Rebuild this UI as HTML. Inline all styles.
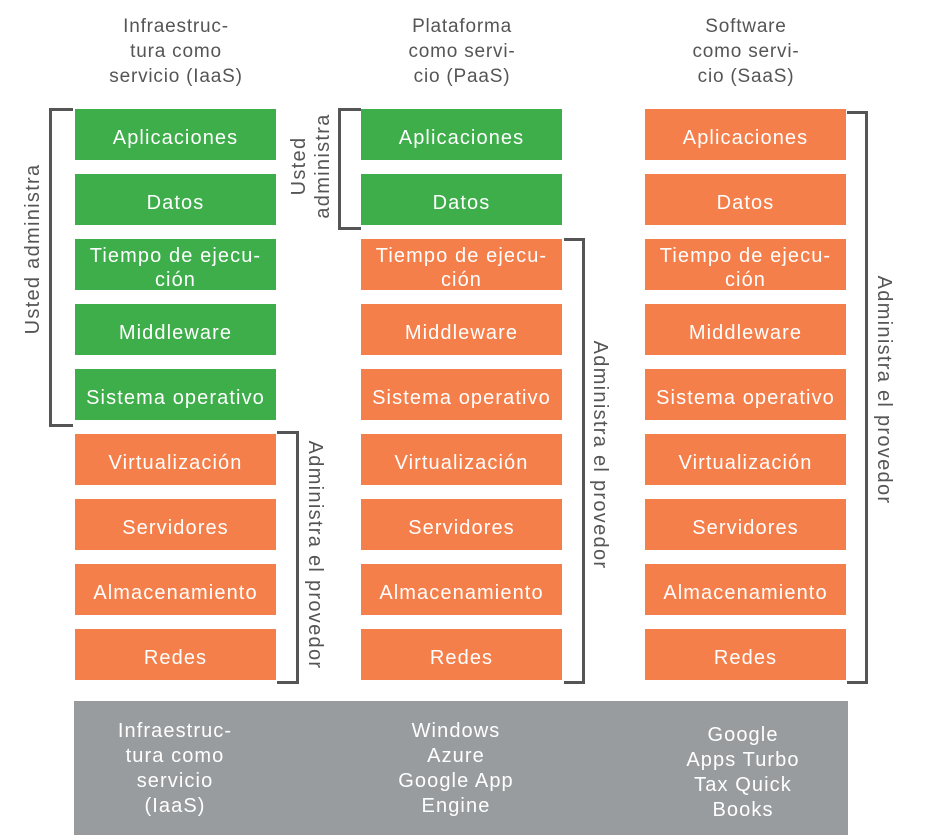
<!DOCTYPE html>
<html><head><meta charset="utf-8"><style>
body{margin:0;width:930px;height:840px;background:#fff;position:relative;font-family:"Liberation Sans",sans-serif;overflow:hidden}
.b{position:absolute;width:201px;height:51px;padding-top:6px;box-sizing:border-box;color:#fff;font-size:20px;letter-spacing:1.1px;display:flex;align-items:center;justify-content:center;text-align:center;line-height:24px}
.g{background:#3dae4a}.o{background:#f57f4b}
.h{position:absolute;width:220px;text-align:center;color:#555;font-size:19px;letter-spacing:0.8px;line-height:25px;top:14px}
.br{position:absolute;border:3px solid #555}
.rt{position:absolute;color:#555;font-size:20px;letter-spacing:1.3px;line-height:24px;text-align:center;white-space:nowrap}
.gray{position:absolute;left:74px;top:701px;width:774px;height:134px;background:#999c9f}
.gt{position:absolute;color:#fff;font-size:20px;letter-spacing:1.1px;line-height:25px;text-align:center;width:220px}
</style></head><body>
<div class="h" style="left:66px">Infraestruc-<br>tura como<br>servicio (IaaS)</div>
<div class="h" style="left:352px">Plataforma<br>como servi-<br>cio (PaaS)</div>
<div class="h" style="left:636px">Software<br>como servi-<br>cio (SaaS)</div>

<div class="b g" style="left:75px;top:109px">Aplicaciones</div>
<div class="b g" style="left:75px;top:174px">Datos</div>
<div class="b g" style="left:75px;top:239px">Tiempo de ejecu-<br>ción</div>
<div class="b g" style="left:75px;top:304px">Middleware</div>
<div class="b g" style="left:75px;top:369px">Sistema operativo</div>
<div class="b o" style="left:75px;top:434px">Virtualización</div>
<div class="b o" style="left:75px;top:499px">Servidores</div>
<div class="b o" style="left:75px;top:564px">Almacenamiento</div>
<div class="b o" style="left:75px;top:629px">Redes</div>

<div class="b g" style="left:361px;top:109px">Aplicaciones</div>
<div class="b g" style="left:361px;top:174px">Datos</div>
<div class="b o" style="left:361px;top:239px">Tiempo de ejecu-<br>ción</div>
<div class="b o" style="left:361px;top:304px">Middleware</div>
<div class="b o" style="left:361px;top:369px">Sistema operativo</div>
<div class="b o" style="left:361px;top:434px">Virtualización</div>
<div class="b o" style="left:361px;top:499px">Servidores</div>
<div class="b o" style="left:361px;top:564px">Almacenamiento</div>
<div class="b o" style="left:361px;top:629px">Redes</div>

<div class="b o" style="left:645px;top:109px">Aplicaciones</div>
<div class="b o" style="left:645px;top:174px">Datos</div>
<div class="b o" style="left:645px;top:239px">Tiempo de ejecu-<br>ción</div>
<div class="b o" style="left:645px;top:304px">Middleware</div>
<div class="b o" style="left:645px;top:369px">Sistema operativo</div>
<div class="b o" style="left:645px;top:434px">Virtualización</div>
<div class="b o" style="left:645px;top:499px">Servidores</div>
<div class="b o" style="left:645px;top:564px">Almacenamiento</div>
<div class="b o" style="left:645px;top:629px">Redes</div>

<div class="br" style="left:49px;top:108px;width:21px;height:313px;border-right:none"></div>
<div class="rt" style="left:33px;top:249px;transform:translate(-50%,-50%) rotate(-90deg)">Usted administra</div>

<div class="br" style="left:277px;top:431px;width:19px;height:247px;border-left:none"></div>
<div class="rt" style="left:315px;top:555px;transform:translate(-50%,-50%) rotate(90deg)">Administra el provedor</div>

<div class="br" style="left:338px;top:108px;width:20px;height:116px;border-right:none"></div>
<div class="rt" style="left:311px;top:166px;transform:translate(-50%,-50%) rotate(-90deg)">Usted<br>administra</div>

<div class="br" style="left:564px;top:238px;width:18px;height:440px;border-left:none"></div>
<div class="rt" style="left:600px;top:455px;transform:translate(-50%,-50%) rotate(90deg)">Administra el provedor</div>

<div class="br" style="left:847px;top:111px;width:18px;height:567px;border-left:none"></div>
<div class="rt" style="left:884px;top:390px;transform:translate(-50%,-50%) rotate(90deg)">Administra el provedor</div>

<div class="gray"></div>
<div class="gt" style="left:65px;top:719px">Infraestruc-<br>tura como<br>servicio<br>(IaaS)</div>
<div class="gt" style="left:346px;top:719px">Windows<br>Azure<br>Google App<br>Engine</div>
<div class="gt" style="left:633px;top:723px">Google<br>Apps Turbo<br>Tax Quick<br>Books</div>
</body></html>
